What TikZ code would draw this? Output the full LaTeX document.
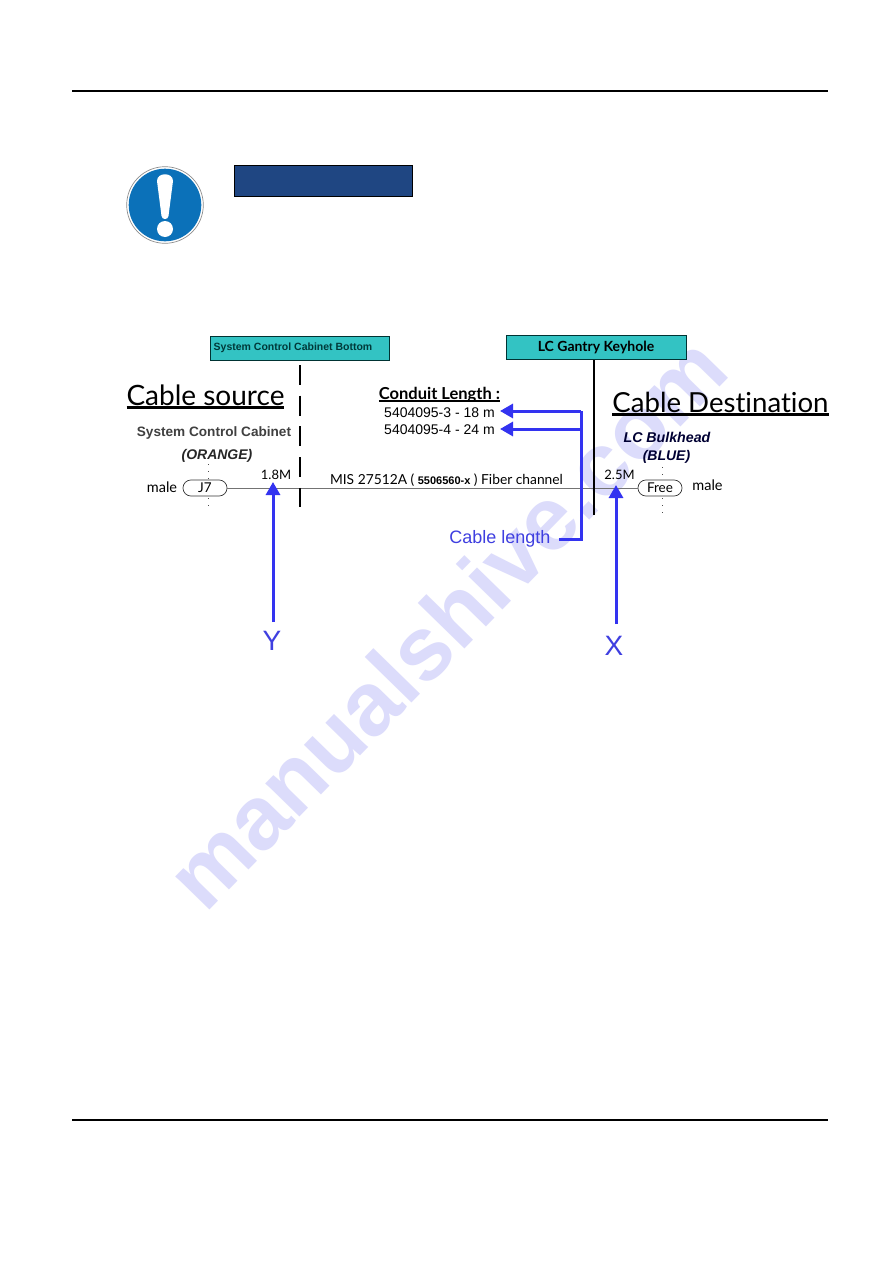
\documentclass[tikz,border=0pt]{standalone}
\usepackage{fontspec}
\setmainfont{Liberation Sans}
\newfontfamily\gefont[Ligatures=NoCommon]{Lato}
\usetikzlibrary{arrows.meta,calc}
\definecolor{arrowblue}{HTML}{3333F0}
\definecolor{labelblue}{HTML}{3F3FE0}
\definecolor{teal1}{HTML}{33C3C3}
\definecolor{navybox}{HTML}{1F4682}
\definecolor{wmcol}{HTML}{DCDCFB}
\definecolor{signblue}{HTML}{0B71B9}
\newcommand{\fs}[1]{\fontsize{#1}{#1}\selectfont}
\tikzset{
  x=1pt,y=-1pt,
  txt/.style={inner sep=0pt,outer sep=0pt,anchor=base,text=black},
  ge/.style={txt,font=\gefont\fs{#1}},
  ar/.style={txt,font=\fs{#1}},
  arb/.style={txt,font=\bfseries\fs{#1},text=black!75},
  arbi/.style={txt,font=\bfseries\itshape\fs{#1},text=black!85},
  rule/.style={draw=black,line width=1.8pt},
  tealbox/.style={draw=teal!40!black,fill=teal1,line width=0.9pt,inner sep=0pt,minimum height=24pt,minimum width=#1},
  bar/.style={draw=black,line width=2.6pt},
  conn/.style={draw=arrowblue,line width=3pt,line join=miter},
  tipped/.style={conn,-{Triangle[length=13pt,width=14pt]}},
  plug/.style={draw=black!80,line width=0.7pt,fill=white,rounded corners=7.9pt,minimum width=44pt,minimum height=16pt,inner sep=0pt,font=\gefont\fs{13.5}},
  cable/.style={draw=black!55,line width=0.8pt},
  dots/.style={draw=black!70,line width=0.8pt,dash pattern=on 0.9pt off 6.2pt},
  hl/.style={draw=black,line width=#1},
}
\begin{document}
\begin{tikzpicture}
\useasboundingbox[fill=white] (0,0) rectangle (892,1263);
% watermark
\node[inner sep=0pt,anchor=base west,rotate=45.7,text=wmcol,font=\bfseries\fs{90}] (wm) at (205,915) {manualshive.com};
% page rules
\coordinate (rtl) at (72,91); \coordinate (rtr) at (828,91);
\coordinate (rbl) at (72,1120); \coordinate (rbr) at (828,1120);
\draw[rule] (rtl) -- (rtr);
\draw[rule] (rbl) -- (rbr);
% sign
\fill[white] (165,205) circle (38.5);
\draw[black!45,line width=0.7pt] (165,205) circle (38.3);
\fill[signblue] (165,205) circle (36.3);
\fill[white] (157,181) .. controls (157,172) and (173,172) .. (173,181) -- (168.5,216) .. controls (168,220) and (162,220) .. (161.5,216) -- cycle;
\fill[white] (165,229) circle (8);
% heading bar
\node[draw=black,fill=navybox,line width=0.9pt,minimum width=178pt,minimum height=31pt,inner sep=0pt] (hdr) at (323,181) {};
% teal boxes
\node[tealbox=179pt,text=teal!45!black,font=\bfseries\fs{10.5}] (sccb) at (299.5,348) {\hspace*{-13pt}System Control Cabinet Bottom};
\node[tealbox=180pt,font=\gefont\bfseries\fs{14}] (lcgk) at (596,347.8) {LC Gantry Keyhole};
% plugs
\node[plug] (j7) at (205,488) {J7};
\node[plug] (free) at (660,488) {Free};
% cable
\draw[cable] (j7) -- (free);
% separators
\coordinate (dashtop) at (300,365); \coordinate (dashbot) at (300,507);
\draw[bar,dash pattern=on 20pt off 10.7pt] (dashtop) -- (dashbot);
\coordinate (lcbot) at (594,515);
\draw[bar] (lcgk.south -| lcbot) -- (lcbot);
% dotted stubs
\coordinate (d1) at (208,464); \coordinate (d2) at (208,509);
\coordinate (d3) at (662,467); \coordinate (d4) at (662,513);
\draw[dots] (d1) -- (208,480);
\draw[dots] (208,498) -- (d2);
\draw[dots] (d3) -- (662,480);
\draw[dots] (662,498) -- (d4);
% titles
\node[ge=28] (src) at (205.5,405) {Cable source};
\draw[hl=2.4pt] ($(src.base west)+(0,2.4)$) -- ($(src.base east)+(0,2.4)$);
\node[ge=27.6] (dst) at (720.5,412) {Cable Destination};
\draw[hl=2.4pt] ($(dst.base west)+(0,2.4)$) -- ($(dst.base east)+(0,2.4)$);
% location labels
\node[arb=13.6] (scc) at (214,436) {System Control Cabinet};
\node[arbi=14] (org) at (217,459) {(ORANGE)};
\node[arbi=14.2,text=black!80!blue] (lcb) at (667,442) {LC Bulkhead};
\node[arbi=14,text=black!80!blue] (blu) at (666.5,460) {(BLUE)};
% cable labels
\node[ge=14.5] (ml) at (162,492) {male};
\node[ge=14.5] (mr) at (707.5,490) {male};
\node[ge=13] (y18) at (276,479) {1.8M};
\node[ge=13] (x25) at (619.5,479) {2.5M};
\node[ge=13.8] (mis) at (446.5,484) {MIS 27512A ( {\fontspec{Liberation Sans}\bfseries\fs{11}5506560-x} ) Fiber channel};
% conduit
\node[txt,font=\gefont\bfseries\fs{16.5}] (cond) at (439.5,399) {Conduit Length :};
\draw[hl=1.4pt] ($(cond.base west)+(0,1.8)$) -- ($(cond.base east)+(0,1.8)$);
\node[ar=14] (p3) at (439.5,417) {5404095-3 - 18 m};
\node[ar=14] (p4) at (439.5,434.5) {5404095-4 - 24 m};
% blue connectors
\node[ar=18,text=labelblue] (clen) at (500,543) {Cable length};
\coordinate (tip3) at (500,411); \coordinate (tip4) at (500,429);
\coordinate (jn3) at (581,411); \coordinate (jn4) at (581,429); \coordinate (jn5) at (581,539);
\coordinate (cstart) at (559,539);
\draw[conn] (cstart) -- (jn5) -- (jn3);
\draw[tipped] (jn3) -- (tip3);
\draw[tipped] (jn4) -- (tip4);
\node[ar=28,text=labelblue] (ly) at (272,650) {Y};
\node[ar=28,text=labelblue] (lx) at (614,655) {X};
\coordinate (ya) at (273,622); \coordinate (yb) at (273,482);
\coordinate (xa) at (616,624); \coordinate (xb) at (616,485);
\draw[tipped] (ya) -- (yb);
\draw[tipped] (xa) -- (xb);
\end{tikzpicture}
\end{document}
